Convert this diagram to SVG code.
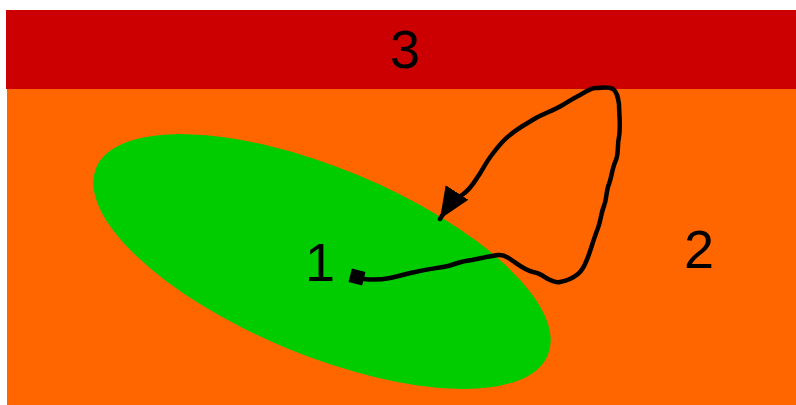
<svg xmlns="http://www.w3.org/2000/svg" width="796" height="405" viewBox="0 0 796 405">
<defs>
<style>
.lbl{font-family:"Liberation Sans",Arial,sans-serif;font-size:54px;fill:#000;text-anchor:middle}
.conn{fill:none;stroke:#000;stroke-width:4.5;stroke-linecap:round;stroke-linejoin:round}
</style>
<marker id="arr" markerWidth="8" markerHeight="8" refX="7" refY="4" orient="auto" markerUnits="strokeWidth" viewBox="0 0 8 8">
<path d="M0,1 L7,4 L0,7 Z" fill="#000"/>
</marker>
</defs>
<rect width="796" height="405" fill="#fff"/>
<g id="region3">
<rect x="6" y="10" width="790" height="79" fill="#CC0000"/>
<text class="lbl" x="405" y="68">3</text>
</g>
<g id="region2">
<rect x="7" y="89" width="789" height="316" fill="#FF6600"/>
<text class="lbl" x="699" y="268">2</text>
</g>
<g id="region1">
<ellipse cx="322" cy="261.5" rx="244.5" ry="93.6" transform="rotate(22.5 322 261.5)" fill="#00CC00"/>
<text class="lbl" x="320" y="281">1</text>
</g>
<g id="connectors">
<rect x="350" y="270" width="14" height="14" transform="rotate(14 357 277)" fill="#000"/>
<path class="conn" marker-end="url(#arr)" d="M357,278 L364,279 C372,280 380,280 390,278 C400,276 405,274 415,272 C428,269 438,268 448,266 C458,263 462,261 472,260 C482,258 490,256 498,255 C505,254 508,258 513,261 C520,266 525,270 533,272 C540,273 543,276 548,279 C552,281 556,283 560,282 C566,281 573,278 578,274 C584,269 585,264 588,257 C592,246 594,238 598,228 C601,220 601,213 604,206 C607,198 606,191 609,184 C612,176 612,168 616,160 C619,152 617,145 619,137 C621,125 619,115 619,104 C618,97 617,92 613,89 C608,86 602,88 595,88 C589,89 585,92 580,95 C572,99 568,102 561,106 C552,111 545,113 536,118 C526,124 518,128 510,135 C502,141 497,148 491,156 C485,164 482,171 477,178 C472,186 468,191 462,195 C456,199 452,200 449,205 L440,219"/>
</g>
</svg>
